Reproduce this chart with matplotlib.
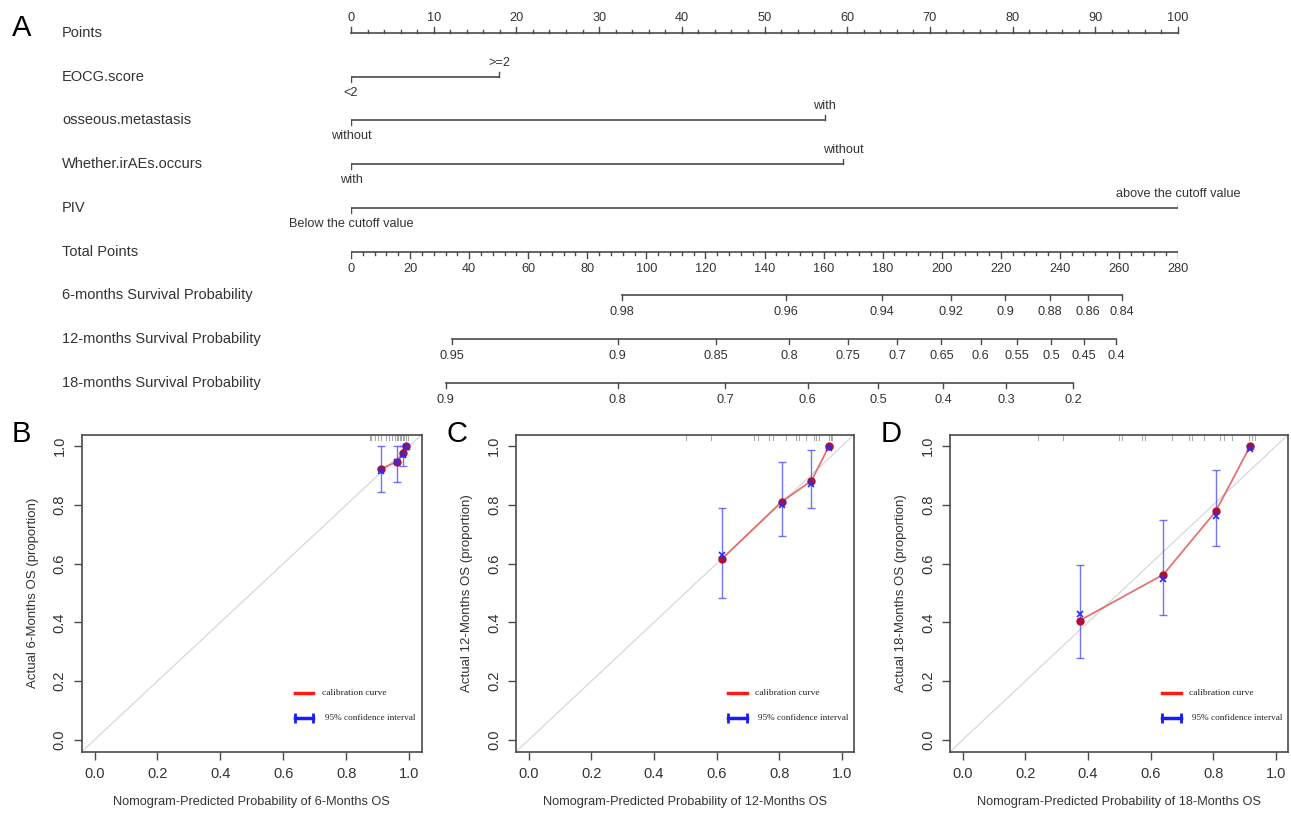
import matplotlib
matplotlib.use("Agg")
import matplotlib.pyplot as plt
import numpy as np

plt.rcParams['font.family'] = ['Liberation Sans', 'DejaVu Sans']

# ---- nomogram data ----
row_names = ["Points", "EOCG.score", "osseous.metastasis", "Whether.irAEs.occurs", "PIV",
             "Total Points", "6-months Survival Probability", "12-months Survival Probability",
             "18-months Survival Probability"]

eocg_levels = ["<2", ">=2"]
eocg_pts = [0, 17.9]
osseous_levels = ["without", "with"]
osseous_pts = [0, 57.3]
irae_levels = ["with", "without"]
irae_pts = [0, 59.5]
piv_levels = ["Below the cutoff value", "above the cutoff value"]
piv_pts = [0, 100]

total_max = 280
surv6_labels = ["0.98", "0.96", "0.94", "0.92", "0.9", "0.88", "0.86", "0.84"]
surv6_total = [91.7, 147.3, 179.8, 203.2, 221.5, 236.6, 249.5, 260.9]
surv12_labels = ["0.95", "0.9", "0.85", "0.8", "0.75", "0.7", "0.65", "0.6", "0.55", "0.5", "0.45", "0.4"]
surv12_total = [34.2, 90.3, 123.6, 148.4, 168.2, 185.0, 199.9, 213.2, 225.5, 237.1, 248.1, 259.0]
surv18_labels = ["0.9", "0.8", "0.7", "0.6", "0.5", "0.4", "0.3", "0.2"]
surv18_total = [32.1, 90.3, 126.6, 154.6, 178.4, 200.5, 221.8, 244.6]

# ---- calibration data (predicted, observed, bias-corrected, CI) ----
cal6_pred = [0.911, 0.960, 0.980, 0.990]
cal6_obs = [0.923, 0.947, 0.976, 1.000]
cal6_corr = [0.915, 0.945, 0.970, 0.996]
cal6_lo = [0.843, 0.877, 0.934, 0.990]
cal6_hi = [1.000, 1.000, 1.000, 1.000]
cal6_rug = [0.875, 0.88, 0.89, 0.90, 0.91, 0.925, 0.935, 0.945, 0.955, 0.96, 0.965,
            0.97, 0.975, 0.98, 0.985, 0.99, 0.995]

cal12_pred = [0.617, 0.808, 0.903, 0.959]
cal12_obs = [0.616, 0.811, 0.882, 1.000]
cal12_corr = [0.629, 0.800, 0.871, 0.995]
cal12_lo = [0.482, 0.695, 0.791, 0.995]
cal12_hi = [0.789, 0.948, 0.986, 1.000]
cal12_rug = [0.503, 0.583, 0.721, 0.732, 0.769, 0.779, 0.821, 0.853, 0.864, 0.885,
             0.912, 0.917, 0.928, 0.96, 0.965, 0.97]

cal18_pred = [0.373, 0.641, 0.808, 0.918]
cal18_obs = [0.406, 0.563, 0.778, 1.000]
cal18_corr = [0.430, 0.548, 0.763, 0.990]
cal18_lo = [0.277, 0.424, 0.659, 0.990]
cal18_hi = [0.596, 0.750, 0.918, 1.000]
cal18_rug = [0.24, 0.32, 0.50, 0.51, 0.574, 0.582, 0.669, 0.722, 0.733, 0.77, 0.823,
             0.834, 0.86, 0.913, 0.924, 0.934]

W, H = 1291, 814
fig = plt.figure(figsize=(W / 100, H / 100), dpi=100)

TXT = '#333333'
LN = '#4a4a4a'

# ---- panel A: nomogram ----
x0, x1 = 351, 1178
ax = fig.add_axes([x0 / W, (H - 410) / H, (x1 - x0) / W, 410 / H])
ax.set_xlim(0, 100)
ax.set_ylim(410, 0)
ax.axis('off')

row_y = [33 + 43.7 * i for i in range(len(row_names))]
lab_x = -(x0 - 62) / (x1 - x0) * 100
for name, y in zip(row_names, row_y):
    ax.text(lab_x, y, name, fontsize=10.5, color=TXT, va='center', ha='left', clip_on=False)

fs = 9.2
# Points axis
y = row_y[0]
ax.plot([0, 100], [y, y], color=LN, lw=1.2, clip_on=False)
for v in np.arange(0, 101, 2):
    L = 6 if v % 10 == 0 else 3
    ax.plot([v, v], [y, y - L], color=LN, lw=1, clip_on=False)
for v in range(0, 101, 10):
    ax.text(v, y - 15, str(v), fontsize=fs, color=TXT, ha='center', va='center')

# categorical variables
cats = [(eocg_levels, eocg_pts), (osseous_levels, osseous_pts),
        (irae_levels, irae_pts), (piv_levels, piv_pts)]
for (levels, pts), y in zip(cats, row_y[1:5]):
    ax.plot([pts[0], pts[1]], [y, y], color=LN, lw=1.2)
    ax.plot([pts[0], pts[0]], [y, y + 5], color=LN, lw=1)
    ax.plot([pts[1], pts[1]], [y, y - 5], color=LN, lw=1)
    ax.text(pts[0], y + 16, levels[0], fontsize=fs, color=TXT, ha='center', va='center')
    ax.text(pts[1], y - 14, levels[1], fontsize=fs, color=TXT, ha='center', va='center')

# Total points axis
sc = 100 / total_max
y = row_y[5]
ax.plot([0, 100], [y, y], color=LN, lw=1.2)
for v in np.arange(0, total_max + 1, 4):
    L = 6 if v % 20 == 0 else 3
    ax.plot([v * sc, v * sc], [y, y + L], color=LN, lw=1)
for v in range(0, total_max + 1, 20):
    ax.text(v * sc, y + 17, str(v), fontsize=fs, color=TXT, ha='center', va='center')

# survival probability axes
for (labels, tp), y in zip([(surv6_labels, surv6_total), (surv12_labels, surv12_total),
                            (surv18_labels, surv18_total)], row_y[6:9]):
    xs = [t * sc for t in tp]
    ax.plot([xs[0], xs[-1]], [y, y], color=LN, lw=1.2)
    for xv, lab in zip(xs, labels):
        ax.plot([xv, xv], [y, y + 5], color=LN, lw=1)
        ax.text(xv, y + 17, lab, fontsize=fs, color=TXT, ha='center', va='center')

fig.text(12 / W, 1 - 28 / H, "A", fontsize=21, color='black', va='center', ha='left')

# ---- panels B, C, D: calibration curves ----
panels = [
    ("B", [82, 421.7], cal6_pred, cal6_obs, cal6_corr, cal6_lo, cal6_hi, cal6_rug, "6"),
    ("C", [516.3, 854.3], cal12_pred, cal12_obs, cal12_corr, cal12_lo, cal12_hi, cal12_rug, "12"),
    ("D", [950.3, 1288.3], cal18_pred, cal18_obs, cal18_corr, cal18_lo, cal18_hi, cal18_rug, "18"),
]
top_px, bot_px = 434.5, 751.5
for letter, (l, r), pred, obs, corr, lo, hi, rug, mon in panels:
    a = fig.add_axes([l / W, (H - bot_px) / H, (r - l) / W, (bot_px - top_px) / H])
    a.set_xlim(-0.04, 1.04)
    a.set_ylim(-0.04, 1.04)
    a.plot([-0.04, 1.04], [-0.04, 1.04], color='#dcdcdc', lw=1, zorder=1)
    for xv in rug:
        a.plot([xv, xv], [1.022, 1.04], color='#888888', lw=0.8, alpha=0.7, zorder=2)
    yerr = [np.array(obs) - np.array(lo), np.array(hi) - np.array(obs)]
    a.errorbar(pred, obs, yerr=yerr, fmt='none', ecolor='#5050f0', elinewidth=1,
               capsize=3, capthick=1, alpha=0.8, zorder=3)
    a.plot(pred, obs, color='#e05a5a', lw=1.3, alpha=0.85, zorder=3)
    a.plot(pred, obs, 'o', color='#b0102e', ms=5, zorder=4)
    a.plot(pred, corr, 'x', color='#2a2aff', ms=5, mew=1.2, zorder=5)

    # legend drawn in data coords
    a.plot([0.636, 0.696], [0.159, 0.159], color='#ff1a1a', lw=2.5)
    a.text(0.723, 0.159, "calibration curve", fontsize=6.8, family='Liberation Serif',
           color='#222222', va='center')
    a.plot([0.636, 0.696], [0.074, 0.074], color='#1a1aff', lw=2.5)
    a.plot([0.636, 0.696], [0.074, 0.074], '|', color='#1a1aff', ms=7, mew=2)
    a.text(0.733, 0.074, "95% confidence interval", fontsize=6.6, family='Liberation Serif',
           color='#222222', va='center')

    ticks = np.arange(0, 1.01, 0.2)
    a.set_xticks(ticks)
    a.set_yticks(ticks)
    a.set_xticklabels([f"{t:.1f}" for t in ticks], fontsize=10.5, color=TXT)
    a.set_yticklabels([f"{t:.1f}" for t in ticks], fontsize=10.5, color=TXT, rotation=90, va='center')
    a.tick_params(direction='out', length=6, width=1, color=LN, pad=5)
    for s in a.spines.values():
        s.set_color(LN)
        s.set_linewidth(1.2)
    a.set_xlabel(f"Nomogram-Predicted Probability of {mon}-Months OS", fontsize=9.2,
                 color=TXT, labelpad=11)
    a.set_ylabel(f"Actual {mon}-Months OS (proportion)", fontsize=9.5, color=TXT, labelpad=10)
    fig.text((l - 70) / W, 1 - 434 / H, letter, fontsize=21, color='black', va='center', ha='left')

fig.savefig("out.png", dpi=100)
